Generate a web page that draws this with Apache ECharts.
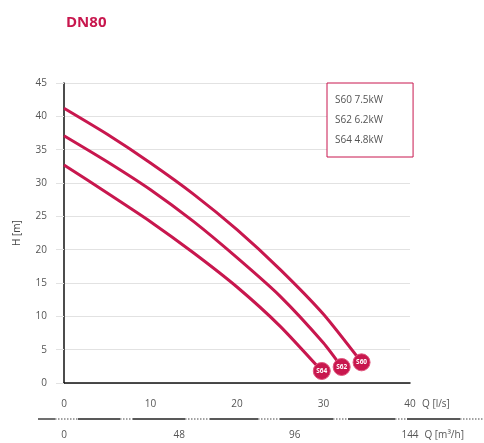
<!DOCTYPE html>
<html>
<head>
<meta charset="utf-8">
<script src="https://cdn.jsdelivr.net/npm/echarts@6/dist/echarts.min.js"></script>
<style>
html,body{margin:0;padding:0;background:#fff;}
#c{width:484px;height:443px;}
</style>
</head>
<body>
<div id="c"></div>
<script>
// ---- data ----
const seriesNames = ['S60 7.5kW', 'S62 6.2kW', 'S64 4.8kW'];
const endLabels = ['S60', 'S62', 'S64'];
const qS60 = [0, 5, 10, 15, 20, 25, 30, 34.4];
const hS60 = [41.2, 37.3, 33.0, 28.3, 23.0, 17.0, 10.3, 3.1];
const qS62 = [0, 5, 10, 15, 20, 25, 30, 32.1];
const hS62 = [37.1, 33.2, 29.0, 24.2, 18.8, 13.0, 6.0, 2.4];
const qS64 = [0, 5, 10, 15, 20, 25, 29.8];
const hS64 = [32.7, 28.5, 24.2, 19.5, 14.4, 8.5, 1.8];
const qLsTicks = [0, 10, 20, 30, 40];
const qM3hTicks = [0, 48, 96, 144];

const RED = '#c8174e';
const FONT = '"Open Sans", "Noto Sans", sans-serif';

function buildData(q, h, label) {
  return q.map((x, i) => {
    if (i === q.length - 1) {
      return {
        value: [x, h[i]],
        symbol: 'circle',
        symbolSize: 17,
        itemStyle: { color: RED, borderColor: '#e0557d', borderWidth: 1 },
        label: {
          show: true, position: 'inside', formatter: label,
          color: '#fff', fontSize: 6.5, fontWeight: 'bold', fontFamily: FONT
        }
      };
    }
    return { value: [x, h[i]], symbol: 'none' };
  });
}

function lineSeries(name, q, h, label) {
  return {
    name: name, type: 'line', smooth: 0.2,
    showSymbol: true, symbol: 'none',
    lineStyle: { color: RED, width: 3 },
    itemStyle: { color: RED },
    data: buildData(q, h, label),
    z: 3
  };
}

// decorative separator (solid/dotted) between the two x scales
const sepY = 419;
const sepSegs = [[38,55,'s'],[55,78,'d'],[78,120,'s'],[120,133,'d'],[133,185,'s'],[185,210,'d'],
  [210,258,'s'],[258,280,'d'],[280,333,'s'],[333,348,'d'],[348,395,'s'],[395,407,'d'],[407,460,'s'],[460,484,'d']];
const graphics = sepSegs.map(s => ({
  type: 'line', shape: { x1: s[0], y1: sepY, x2: s[1], y2: sepY },
  style: s[2] === 's' ? { stroke: '#222', lineWidth: 1.3 } : { stroke: '#444', lineWidth: 1, lineDash: [1.5, 1.5] },
  silent: true
}));

const chart = echarts.init(document.getElementById('c'), null, { renderer: 'canvas' });
chart.setOption({
  animation: false,
  backgroundColor: '#fff',
  textStyle: { fontFamily: FONT },
  title: {
    text: 'DN80', left: 61, top: 10,
    textStyle: { color: RED, fontSize: 15, fontWeight: 'bold', fontFamily: FONT }
  },
  legend: {
    data: seriesNames.map(n => ({ name: n, icon: 'none' })),
    orient: 'vertical', left: 327, top: 83,
    itemWidth: 0, itemHeight: 14, itemGap: 8,
    padding: [10, 30, 12, 3],
    borderColor: RED, borderWidth: 1, backgroundColor: '#fff',
    textStyle: { color: '#555', fontSize: 10, fontFamily: FONT },
    selectedMode: false
  },
  grid: { left: 64, right: 74, top: 83, bottom: 60 },
  xAxis: [{
    type: 'value', min: 0, max: 40, interval: 10, position: 'bottom',
    axisLine: { show: true, onZero: false, lineStyle: { color: '#111', width: 1.5 } },
    axisTick: { show: false },
    splitLine: { show: false },
    axisLabel: { color: '#555', fontSize: 10, margin: 16, fontFamily: FONT,
      customValues: qLsTicks },
    name: 'Q [l/s]', nameLocation: 'end', nameGap: 12,
    nameTextStyle: { color: '#555', fontSize: 10, fontFamily: FONT, verticalAlign: 'top', padding: [16, 0, 0, 0] }
  }, {
    type: 'value', min: 0, max: 144, interval: 48, position: 'bottom', offset: 36,
    axisLine: { show: false },
    axisTick: { show: false },
    splitLine: { show: false },
    axisLabel: { color: '#555', fontSize: 10, margin: 11, fontFamily: FONT,
      customValues: qM3hTicks },
    name: 'Q [m³/h]', nameLocation: 'end', nameGap: 12,
    nameTextStyle: { color: '#555', fontSize: 10, fontFamily: FONT, verticalAlign: 'top', padding: [47, 0, 0, 0] }
  }],
  yAxis: {
    type: 'value', min: 0, max: 45, interval: 5,
    axisLine: { show: true, lineStyle: { color: '#111', width: 1.5 } },
    axisTick: { show: true, length: 8, lineStyle: { color: '#e2e2e2' } },
    splitLine: { show: true, lineStyle: { color: '#e2e2e2', width: 1 } },
    axisLabel: { color: '#555', fontSize: 10, margin: 17, fontFamily: FONT },
    name: 'H [m]', nameLocation: 'middle', nameRotate: 90, nameGap: 42,
    nameTextStyle: { color: '#444', fontSize: 10, fontFamily: FONT }
  },
  graphic: graphics,
  series: [
    lineSeries(seriesNames[2], qS64, hS64, endLabels[2]),
    lineSeries(seriesNames[1], qS62, hS62, endLabels[1]),
    lineSeries(seriesNames[0], qS60, hS60, endLabels[0])
  ]
});
</script>
</body>
</html>
